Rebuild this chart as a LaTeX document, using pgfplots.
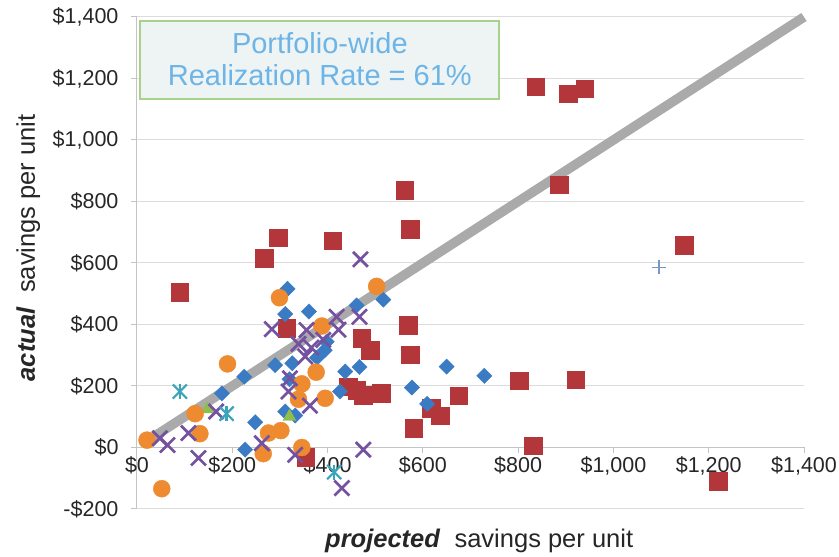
\documentclass[border=0pt]{standalone}
\usepackage{pgfplots}
\pgfplotsset{compat=1.18}
\usepackage{fontspec}
\setmainfont{Liberation Sans}
\definecolor{cblue}{HTML}{3A7BC4}
\definecolor{cred}{HTML}{B3373A}
\definecolor{cgreen}{HTML}{8DBE4F}
\definecolor{cpurple}{HTML}{7552A0}
\definecolor{cteal}{HTML}{3AA5BA}
\definecolor{corange}{HTML}{EE8A30}
\definecolor{cplus}{HTML}{7896CC}
\definecolor{boxfill}{HTML}{EEF3F4}
\definecolor{boxdraw}{HTML}{A8D18C}
\definecolor{boxtext}{HTML}{6DB5E6}
\definecolor{gridc}{HTML}{DCDCDC}
\definecolor{axisc}{HTML}{C4C4C4}
\definecolor{diag}{HTML}{AAAAAA}
\begin{document}
\begin{tikzpicture}
\begin{axis}[
  scale only axis, width=667pt, height=492pt,
  xmin=0, xmax=1400, ymin=-200, ymax=1400,
  axis x line*=middle, axis y line*=left,
  hide obscured x ticks=false, hide obscured y ticks=false,
  xtick={0,200,400,600,800,1000,1200,1400},
  ytick={-200,0,200,400,600,800,1000,1200,1400},
  xticklabels={{\$0},{\$200},{\$400},{\$600},{\$800},{\$1,000},{\$1,200},{\$1,400}},
  yticklabels={{-\$200},{\$0},{\$200},{\$400},{\$600},{\$800},{\$1,000},{\$1,200},{\$1,400}},
  ymajorgrids, grid style={gridc, line width=1pt},
  axis line style={axisc, line width=1pt},
  tick style={axisc, line width=1pt},
  tick align=outside, major tick length=6pt,
  ticklabel style={font=\fontsize{21.5}{24}\selectfont, text=black!85},
  yticklabel style={xshift=-9pt},
  every axis x label/.style={at={(axis description cs:0.513,-0.065)}, anchor=center},
  every axis y label/.style={at={(axis description cs:-0.163,0.531)}, rotate=90, anchor=center},
  label style={font=\fontsize{25.5}{28}\selectfont, text=black!85},
  xlabel={\textbf{\textit{projected}}\ \ savings per unit},
  ylabel={\textbf{\textit{actual}}\ \ savings per unit},
  clip=false,
]
\coordinate (sw) at (axis cs:0,-200);
\addplot[diag, line width=9.5pt, no marks] coordinates {(25,25) (1400,1400)};
% red squares
\addplot[only marks, mark=square*, mark size=8.8pt, color=cred] coordinates {
(90,505) (267,615) (297,682) (411,672) (562,837) (573,709) (837,1173) (905,1151)
(940,1167) (886,855) (1149,658) (314,388) (569,398) (472,355) (489,317) (573,302)
(802,217) (921,220) (443,198) (461,187) (475,171) (513,176) (675,168) (618,128)
(636,104) (581,62) (832,6) (1220,-110) (354,-32)
};
% blue diamonds
\addplot[only marks, mark=square*, mark size=5.4pt, mark options={rotate=45}, color=cblue] coordinates {
(316,516) (311,434) (361,442) (461,462) (517,481) (290,268) (326,274) (225,230)
(398,344) (394,316) (378,292) (320,222) (178,176) (248,82) (311,117) (332,104)
(227,-7) (437,247) (467,262) (426,182) (577,195) (650,263) (729,233) (609,142)
};
% green triangles
\addplot[only marks, mark=triangle*, mark size=7.5pt, color=cgreen] coordinates {
(148,125) (320,100)
};
% orange circles
\addplot[only marks, mark=*, mark size=8.5pt, color=corange] coordinates {
(299,487) (503,524) (388,395) (190,272) (376,245) (346,207) (339,157) (395,160)
(122,110) (132,45) (276,47) (302,55) (346,0) (265,-20) (21,24) (52,-134)
};
% purple x
\addplot[only marks, mark=x, mark size=10.6pt, line width=2.7pt, color=cpurple] coordinates {
(469,612) (467,425) (419,425) (283,385) (356,382) (423,383) (339,337) (366,325)
(391,350) (353,296) (321,225) (318,182) (363,136) (166,117) (108,47) (48,30)
(64,8) (129,-34) (262,14) (332,-24) (475,-7) (430,-132)
};
% teal asterisks
\addplot[only marks, mark=x, mark size=10pt, line width=2.2pt, color=cteal] coordinates {
(90,182) (188,110) (414,-80)
};
\addplot[only marks, mark=|, mark size=7.5pt, line width=2.2pt, color=cteal] coordinates {
(90,182) (188,110) (414,-80)
};
% plus
\addplot[only marks, mark=+, mark size=7pt, line width=1.6pt, color=cplus] coordinates {
(1096,586)
};
\node[draw=boxdraw, line width=2pt, fill=boxfill, minimum width=359pt, minimum height=78pt,
  inner sep=0pt, align=center, text=boxtext, font=\fontsize{29}{32}\selectfont]
  at (axis cs:383.8,1261.5) {Portfolio-wide\\Realization Rate = 61\%};
\end{axis}
\pgfresetboundingbox
\path[use as bounding box] (sw) ++(-137pt,-48pt) rectangle ++(839pt,557pt);
\end{tikzpicture}
\end{document}
